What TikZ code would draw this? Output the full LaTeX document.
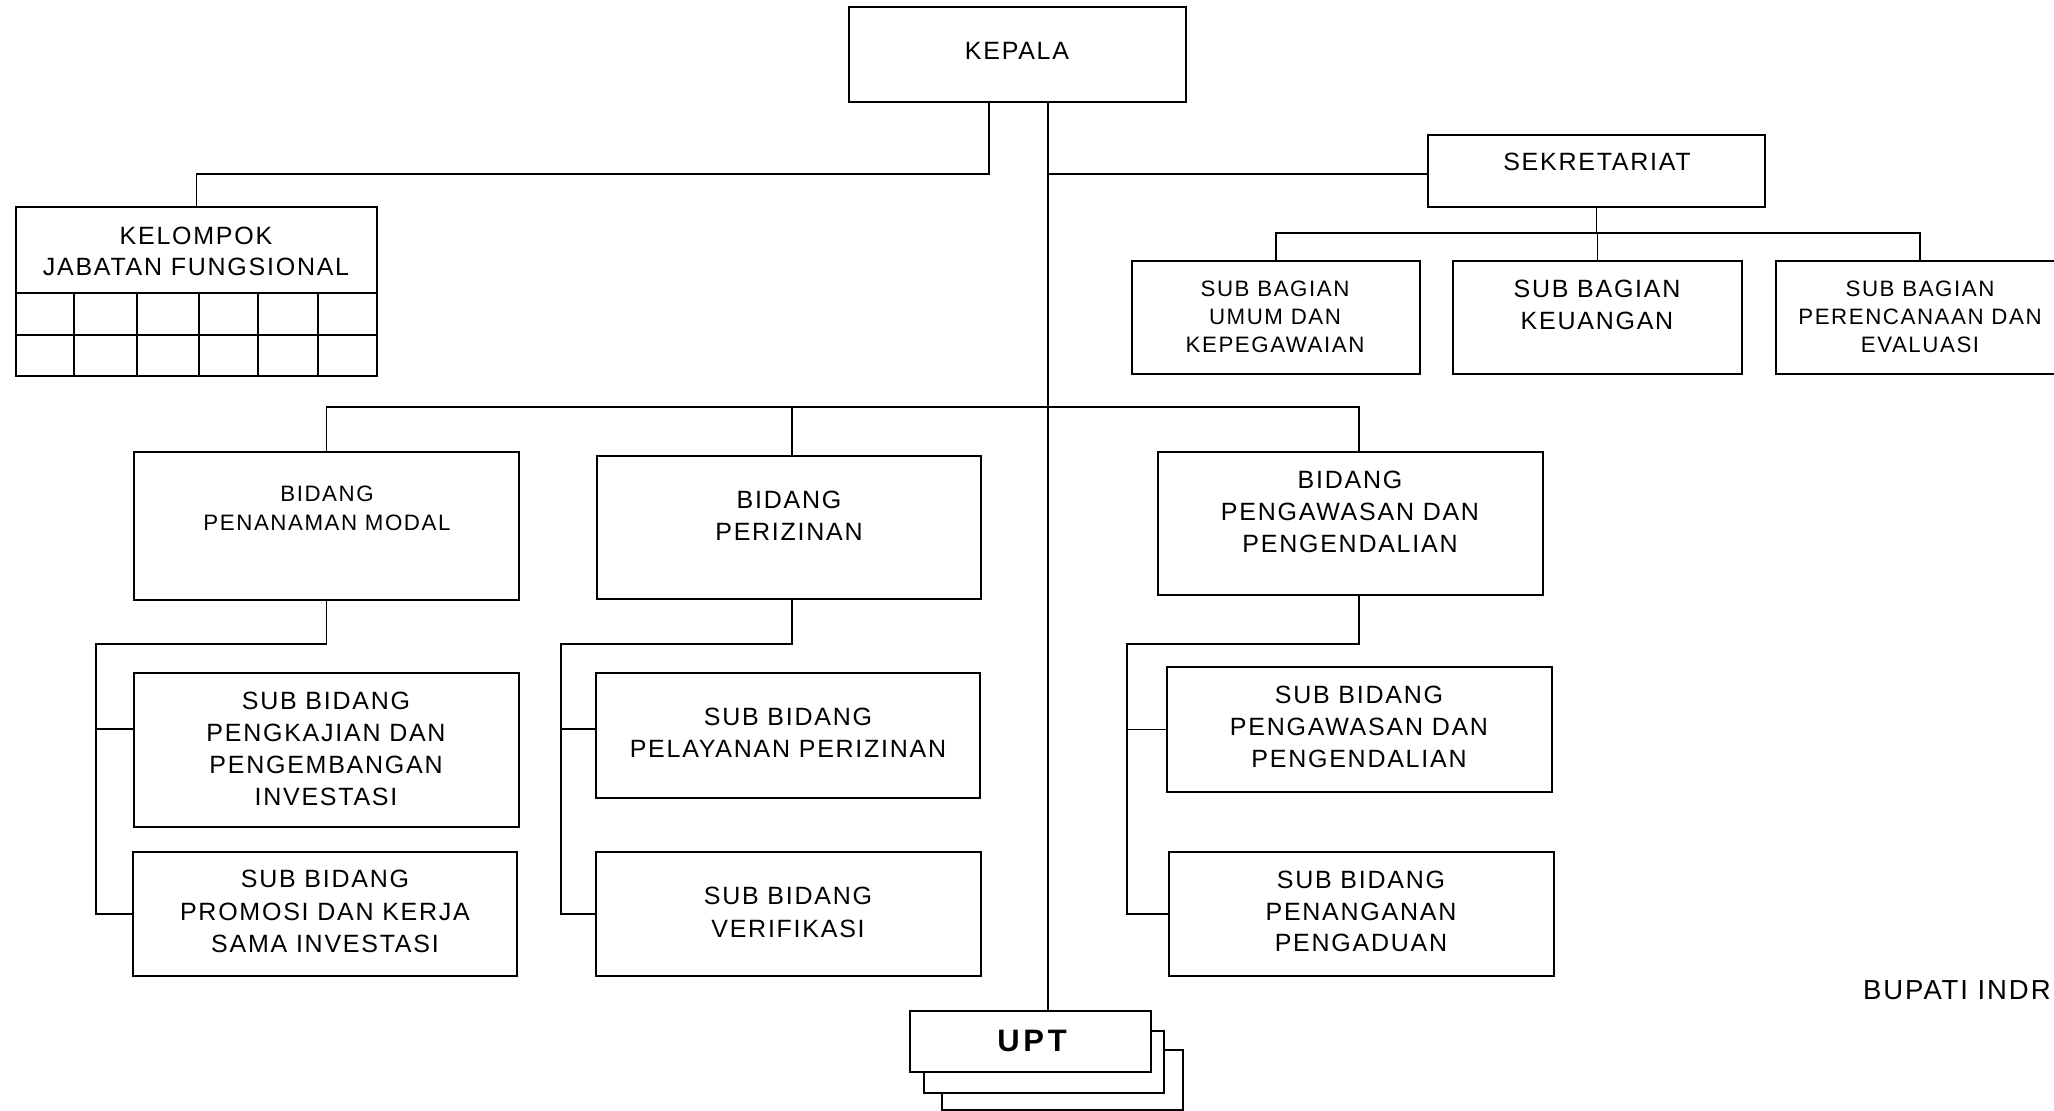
\documentclass[tikz,border=0pt]{standalone}
\usepackage{fontspec}
\setmainfont{Liberation Sans}
\newfontfamily\orgfont{Liberation Sans}[LetterSpace=7]
\newfontfamily\uptfont{Liberation Sans}[LetterSpace=12]
\begin{document}
\begin{tikzpicture}[x=1pt,y=-1pt,
  box/.style={draw=black, line width=1.8pt, fill=white, inner sep=0pt, outer sep=0pt, anchor=north west},
  conn/.style={draw=black, line width=1.8pt},
  txt/.style={inner sep=0pt, align=center, font=\orgfont\fontsize{25}{#1}\selectfont},
  txt/.default=32,
  txs/.style={inner sep=0pt, align=center, font=\orgfont\fontsize{22.3}{#1}\selectfont},
  txs/.default=28]
\useasboundingbox (0,0) rectangle (2054,1111);
\clip (0,0) rectangle (2054,1111);
\fill[white] (0,0) rectangle (2054,1111);

% boxes
\node[box, minimum width=337pt, minimum height=95pt] (kepala) at (849,7) {};
\node[box, minimum width=361pt, minimum height=169pt] (kelompok) at (16,207) {};
\node[box, minimum width=337pt, minimum height=72pt] (sek) at (1428,135) {};
\node[box, minimum width=288pt, minimum height=113pt] (umum) at (1132,261) {};
\node[box, minimum width=289pt, minimum height=113pt] (keu) at (1453,261) {};
\node[box, minimum width=288pt, minimum height=113pt] (ren) at (1776,261) {};
\node[box, minimum width=385pt, minimum height=148pt] (bpm) at (134,452) {};
\node[box, minimum width=384pt, minimum height=143pt] (bpi) at (597,456) {};
\node[box, minimum width=385pt, minimum height=143pt] (bpg) at (1158,452) {};
\node[box, minimum width=385pt, minimum height=154pt] (sb1) at (134,673) {};
\node[box, minimum width=384pt, minimum height=124pt] (sb2) at (133,852) {};
\node[box, minimum width=384pt, minimum height=125pt] (sb3) at (596,673) {};
\node[box, minimum width=385pt, minimum height=124pt] (sb4) at (596,852) {};
\node[box, minimum width=385pt, minimum height=125pt] (sb5) at (1167,667) {};
\node[box, minimum width=385pt, minimum height=124pt] (sb6) at (1169,852) {};
\node[box, minimum width=241pt, minimum height=60pt] (upt3) at (942,1050) {};
\node[box, minimum width=240pt, minimum height=62pt] (upt2) at (924,1031) {};
\node[box, minimum width=241pt, minimum height=61pt] (upt1) at (910,1011) {};

% grid of kelompok
\draw[conn] (16,293) -- (377,293);
\draw[conn] (16,335) -- (377,335);
\foreach \gx in {74,137,199,258,318} \draw[conn] (\gx,293) -- (\gx,376);

% connectors
\coordinate (trunk) at (1048,0);
\coordinate (lk) at (989,174);
\draw[conn] (kepala.south -| lk) -- (lk) -- (lk -| kelompok.north) -- (kelompok.north);
\draw[conn] (kepala.south -| trunk) -- (upt1.north -| trunk);
\coordinate (sl) at (1048,174);
\draw[conn] (sl) -- (sl -| sek.west);
\coordinate (sbar) at (0,233);
\draw[conn] (sek.south) -- (sek.south |- sbar);
\draw[conn] (umum.north) -- (umum.north |- sbar) -- (ren.north |- sbar) -- (ren.north);
\draw[conn] (keu.north |- sbar) -- (keu.north);
\coordinate (mbar) at (0,407);
\coordinate (mx) at (792,0);
\coordinate (gx) at (1359,0);
\draw[conn] (bpm.north) -- (bpm.north |- mbar) -- (gx |- mbar) -- (gx |- bpg.north);
\draw[conn] (mx |- mbar) -- (mx |- bpi.north);
\coordinate (lr) at (96,644);
\coordinate (b1) at (96,729);
\draw[conn] (bpm.south) -- (bpm.south |- lr) -- (lr) -- (lr |- sb2.west) -- (sb2.west);
\draw[conn] (b1) -- (b1 -| sb1.west);
\coordinate (mr) at (561,644);
\coordinate (b3) at (561,729);
\draw[conn] (mx |- bpi.south) -- (mx |- mr) -- (mr) -- (mr |- sb4.west) -- (sb4.west);
\draw[conn] (b3) -- (b3 -| sb3.west);
\coordinate (rr) at (1127,644);
\draw[conn] (gx |- bpg.south) -- (gx |- rr) -- (rr) -- (rr |- sb6.west) -- (sb6.west);
\draw[conn] (rr |- sb5.west) -- (sb5.west);

% texts
\node[txt] (t-kepala) at (1017,51) {KEPALA};
\node[txt=31] (t-kel) at (196,251.5) {KELOMPOK\\JABATAN FUNGSIONAL};
\node[txt] (t-sek) at (1597,162) {SEKRETARIAT};
\node[txs=28] (t-umum) at (1275,317) {SUB BAGIAN\\UMUM DAN\\KEPEGAWAIAN};
\node[txt=32] (t-keu) at (1597,305) {SUB BAGIAN\\KEUANGAN};
\node[txs=28] (t-ren) at (1920,317) {SUB BAGIAN\\PERENCANAAN DAN\\EVALUASI};
\node[txs=29] (t-bpm) at (327,508.5) {BIDANG\\PENANAMAN MODAL};
\node[txt=32] (t-bpi) at (789,516) {BIDANG\\PERIZINAN};
\node[txt=32] (t-bpg) at (1350,512) {BIDANG\\PENGAWASAN DAN\\PENGENDALIAN};
\node[txt=32] (t-sb1) at (326,749) {SUB BIDANG\\PENGKAJIAN DAN\\PENGEMBANGAN\\INVESTASI};
\node[txt=32.5] (t-sb2) at (325,911.5) {SUB BIDANG\\PROMOSI DAN KERJA\\SAMA INVESTASI};
\node[txt=32] (t-sb3) at (788,733) {SUB BIDANG\\PELAYANAN PERIZINAN};
\node[txt=33] (t-sb4) at (788,912.5) {SUB BIDANG\\VERIFIKASI};
\node[txt=32] (t-sb5) at (1359,727) {SUB BIDANG\\PENGAWASAN DAN\\PENGENDALIAN};
\node[txt=31.5] (t-sb6) at (1361,911.5) {SUB BIDANG\\PENANGANAN\\PENGADUAN};
\node[inner sep=0pt, font=\uptfont\bfseries\fontsize{31}{31}\selectfont] (t-upt) at (1032,1041) {UPT};
\node[anchor=west, inner sep=0pt, font=\orgfont\fontsize{27.5}{30}\selectfont] (t-bup) at (1863,990) {BUPATI INDR};
\end{tikzpicture}
\end{document}
